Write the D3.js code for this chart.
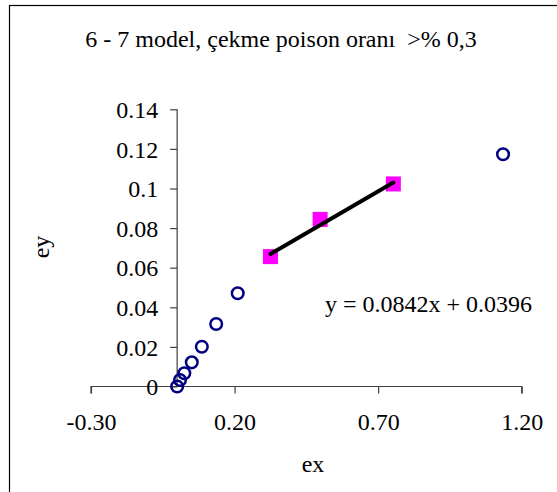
<!DOCTYPE html>
<html><head><meta charset="utf-8">
<script src="https://cdn.jsdelivr.net/npm/d3@7"></script>
<style>body{margin:0;background:#fff}svg{display:block}text{font-family:"Liberation Serif","Times New Roman",serif;fill:#000}</style>
</head><body>
<svg id="c" width="557" height="492"></svg>
<script>
const title = "6 - 7 model, çekme poison oranı  >% 0,3";
const xTicks = [-0.30, 0.20, 0.70, 1.20];
const xTickLabels = ["-0.30", "0.20", "0.70", "1.20"];
const yTicks = [0, 0.02, 0.04, 0.06, 0.08, 0.1, 0.12, 0.14];
const yTickLabels = ["0", "0.02", "0.04", "0.06", "0.08", "0.1", "0.12", "0.14"];
const circleX = [0, 0.010, 0.025, 0.051, 0.086, 0.136, 0.211, 1.135];
const circleY = [0, 0.0033, 0.0067, 0.0122, 0.0201, 0.0316, 0.0471, 0.1173];
const squareX = [0.325, 0.498, 0.753];
const squareY = [0.0656, 0.0844, 0.1023];
const slope = 0.0842, intercept = 0.0396;
const eqText = "y = 0.0842x + 0.0396";

const svg = d3.select("#c");
const x = d3.scaleLinear().domain([-0.3, 1.2]).range([91, 521.7]);
const y = d3.scaleLinear().domain([0, 0.14]).range([386.5, 109.3]);
const axisColor = "#404040";
const FONT = '"Liberation Serif","Times New Roman",serif';

svg.append("rect").attr("x", 9.5).attr("y", 5.5).attr("width", 700).attr("height", 700)
  .attr("fill", "none").attr("stroke", "#000").attr("stroke-width", 1.2);

svg.append("text").attr("x", 281).attr("y", 47).attr("text-anchor", "middle")
  .style("font-size", "24px").style("font-family", FONT).style("white-space", "pre").text(title);

// x axis
const xAxis = d3.axisBottom(x).tickValues(xTicks).tickSize(7).tickFormat((d, i) => xTickLabels[i]);
const gx = svg.append("g").attr("transform", `translate(0,${y(0)})`).call(xAxis).attr("font-family", null).attr("font-size", null);
gx.select(".domain").attr("stroke", axisColor).attr("stroke-width", 1.2).attr("d", `M${x(-0.3)},7V0H${x(1.2)}V7`);
gx.selectAll(".tick line").attr("stroke", axisColor).attr("stroke-width", 1.2);
gx.selectAll(".tick text").attr("y", 0).attr("dy", "43px")
  .style("font-size", "24px").style("font-family", FONT).attr("fill", "#000");

// y axis
const yAxis = d3.axisLeft(y).tickValues(yTicks).tickSize(7).tickFormat((d, i) => yTickLabels[i]);
const gy = svg.append("g").attr("transform", `translate(${x(0)},0)`).call(yAxis).attr("font-family", null).attr("font-size", null);
gy.select(".domain").attr("stroke", axisColor).attr("stroke-width", 1.2).attr("d", `M0,${y(0.14)}V${y(0)}`);
gy.selectAll(".tick line").attr("stroke", axisColor).attr("stroke-width", 1.2);
gy.selectAll(".tick text").attr("x", -19).attr("dy", "0.34em")
  .style("font-size", "24px").style("font-family", FONT).attr("fill", "#000");

// axis titles
svg.append("text").attr("x", 313).attr("y", 472).attr("text-anchor", "middle").style("font-size", "24px").style("font-family", FONT).text("ex");
svg.append("text").attr("transform", "translate(49,247) rotate(-90)").attr("text-anchor", "middle").style("font-size", "24px").style("font-family", FONT).text("ey");

// circles
svg.append("g").selectAll("circle").data(circleX.map((v, i) => [v, circleY[i]])).join("circle")
  .attr("cx", d => x(d[0])).attr("cy", d => y(d[1])).attr("r", 5.8)
  .attr("fill", "none").attr("stroke", "#000080").attr("stroke-width", 2.5);

// squares
const sq = 15;
svg.append("g").selectAll("rect").data(squareX.map((v, i) => [v, squareY[i]])).join("rect")
  .attr("x", d => x(d[0]) - sq / 2).attr("y", d => y(d[1]) - sq / 2).attr("width", sq).attr("height", sq)
  .attr("fill", "#ff00ff");

// trendline
const x0 = d3.min(squareX), x1 = d3.max(squareX);
svg.append("line").attr("x1", x(x0)).attr("y1", y(slope * x0 + intercept))
  .attr("x2", x(x1)).attr("y2", y(slope * x1 + intercept))
  .attr("stroke", "#000").attr("stroke-width", 4).attr("stroke-linecap", "round");

svg.append("text").attr("x", 325).attr("y", 312).style("font-size", "24px").style("font-family", FONT).text(eqText);
</script>
</body></html>
